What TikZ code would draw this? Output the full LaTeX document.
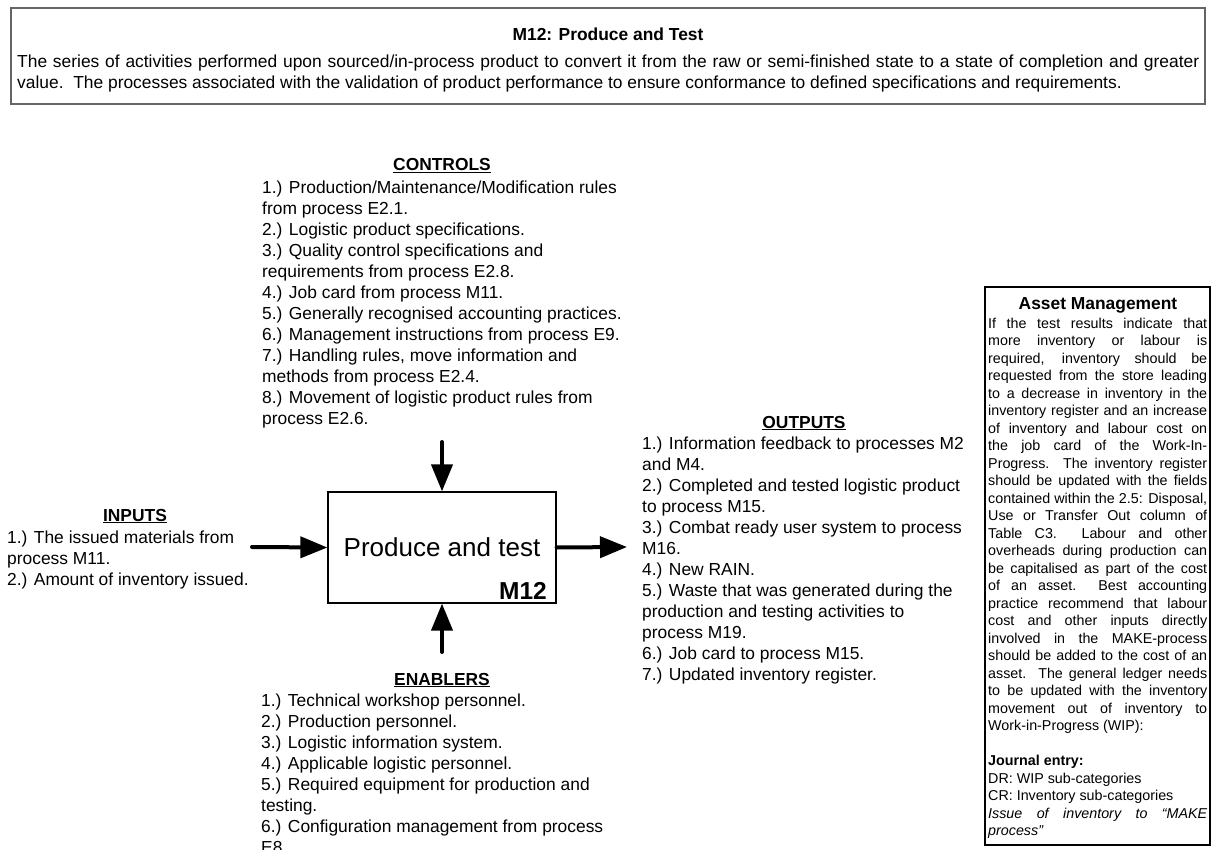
\documentclass[tikz,border=0pt]{standalone}
\usepackage{fontspec}
\setmainfont{Liberation Sans}
\usetikzlibrary{arrows.meta}

% one justified line of fixed width
\newcommand{\jline}[2][219pt]{\makebox[#1][s]{#2}}

\tikzset{
  bodytext/.style={font=\fontsize{17.4}{21}\selectfont, inner sep=0pt, anchor=north west, align=left},
  linetext/.style={font=\fontsize{17.4}{21}\selectfont, inner sep=0pt, anchor=base west},
  headtext/.style={font=\fontsize{17.4}{21}\selectfont\bfseries, inner sep=0pt, anchor=base},
  frame/.style={draw=black, line width=1.2pt, inner sep=0pt},
  flow/.style={line width=4pt, line cap=round, -{Triangle[length=27pt,width=21pt]}},
  notetext/.style={font=\fontsize{14.3}{17.5}\selectfont, inner sep=0pt, anchor=north west, align=left},
}

\begin{document}
\begin{tikzpicture}[x=1pt,y=-1pt]
\useasboundingbox (0,0) rectangle (1214,850);
\fill[white] (0,0) rectangle (1214,850);
\clip (0,0) rectangle (1214,850);

% heading box
\node[frame, draw=black!60, line width=1.6pt, minimum width=1194pt, minimum height=96pt] (titlebox) at (608,56) {};
\node[headtext] (title) at (608,41) {M12: Produce and Test};
\node[linetext] (desc1) at (17,68) {\jline[1182pt]{The series of activities performed upon sourced/in-process product to convert it from the raw or semi-finished state to a state of completion and greater}};
\node[linetext] (desc2) at (17,89) {value.\ \ The processes associated with the validation of product performance to ensure conformance to defined specifications and requirements.};

% activity box
\node[frame, minimum width=228pt, minimum height=111pt] (proc) at (442,547.5) {};
\node[font=\fontsize{26}{30}\selectfont, inner sep=0pt, anchor=base] (proclabel) at (442,556) {Produce and test};
\node[font=\fontsize{24.5}{28}\selectfont\bfseries, inner sep=0pt, anchor=base east] (procid) at (547,599) {M12};

% arrows
\coordinate (cin) at (252,547);
\coordinate (cctl) at (442,442);
\coordinate (cenb) at (442,652);
\coordinate (cout) at (627,547);
\draw[flow] (cin) -- (proc.west);
\draw[flow] (cctl) -- (proc.north);
\draw[flow] (cenb) -- (proc.south);
\draw[flow] (proc.east) -- (cout);

% controls
\node[headtext] (ctlhead) at (442,171) {\underline{CONTROLS}};
\node[bodytext] (ctlbody) at (262,178.3) {\strut 1.) Production/Maintenance/Modification rules\\
from process E2.1.\\
2.) Logistic product specifications.\\
3.) Quality control specifications and\\
requirements from process E2.8.\\
4.) Job card from process M11.\\
5.) Generally recognised accounting practices.\\
6.) Management instructions from process E9.\\
7.) Handling rules, move information and\\
methods from process E2.4.\\
8.) Movement of logistic product rules from\\
process E2.6.};

% inputs
\node[headtext] (inhead) at (135,521) {\underline{INPUTS}};
\node[bodytext] (inbody) at (7,528.3) {\strut 1.) The issued materials from\\
process M11.\\
2.) Amount of inventory issued.};

% outputs
\node[headtext] (outhead) at (804,428) {\underline{OUTPUTS}};
\node[bodytext] (outbody) at (642,434.3) {\strut 1.) Information feedback to processes M2\\
and M4.\\
2.) Completed and tested logistic product\\
to process M15.\\
3.) Combat ready user system to process\\
M16.\\
4.) New RAIN.\\
5.) Waste that was generated during the\\
production and testing activities to\\
process M19.\\
6.) Job card to process M15.\\
7.) Updated inventory register.};

% enablers
\node[headtext] (enbhead) at (442,685) {\underline{ENABLERS}};
\node[bodytext] (enbbody) at (261,691.3) {\strut 1.) Technical workshop personnel.\\
2.) Production personnel.\\
3.) Logistic information system.\\
4.) Applicable logistic personnel.\\
5.) Required equipment for production and\\
testing.\\
6.) Configuration management from process\\
E8.};

% asset management note
\node[frame, minimum width=225pt, minimum height=558pt] (asset) at (1097.5,566) {};
\node[headtext, font=\fontsize{17.4}{21}\selectfont\bfseries] (assethead) at (1098,309.5) {Asset Management};
\node[notetext] (assetbody) at (988,315.75) {\strut\jline{If the test results indicate that}\\
\jline{more inventory or labour is}\\
\jline{required, inventory should be}\\
\jline{requested from the store leading}\\
\jline{to a decrease in inventory in the}\\
\jline{inventory register and an increase}\\
\jline{of inventory and labour cost on}\\
\jline{the job card of the Work-In-}\\
\jline{Progress.\ \ The inventory register}\\
\jline{should be updated with the fields}\\
\jline{contained within the 2.5: Disposal,}\\
\jline{Use or Transfer Out column of}\\
\jline{Table C3.\ \ Labour and other}\\
\jline{overheads during production can}\\
\jline{be capitalised as part of the cost}\\
\jline{of an asset.\ \ Best accounting}\\
\jline{practice recommend that labour}\\
\jline{cost and other inputs directly}\\
\jline{involved in the MAKE-process}\\
\jline{should be added to the cost of an}\\
\jline{asset.\ \ The general ledger needs}\\
\jline{to be updated with the inventory}\\
\jline{movement out of inventory to}\\
Work-in-Progress (WIP):\\
\mbox{}\\
\textbf{Journal entry:}\\
DR: WIP sub-categories\\
CR: Inventory sub-categories\\
\jline{\itshape Issue of inventory to “MAKE}\\
\textit{process”}};
\end{tikzpicture}
\end{document}
